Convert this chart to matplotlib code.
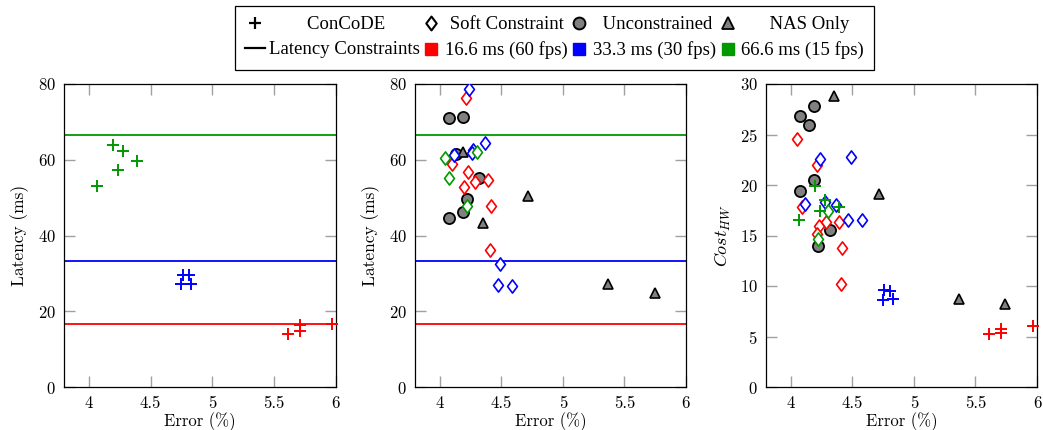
import matplotlib
matplotlib.use("Agg")
import matplotlib.pyplot as plt
from matplotlib.lines import Line2D
from matplotlib.path import Path

# ---------------- data ----------------
constraints = [16.6, 33.3, 66.6]
constraint_colors = ["#ff0000", "#0000ff", "#009900"]
legend_constraint_labels = ["16.6 ms (60 fps)", "33.3 ms (30 fps)", "66.6 ms (15 fps)"]

# ConCoDE (error %, latency ms, cost)
concode60_err = [5.61, 5.71, 5.71, 5.97]
concode60_lat = [13.9, 16.5, 14.8, 16.7]
concode60_cost = [5.2, 5.7, 5.3, 6.0]
concode30_err = [4.76, 4.81, 4.75, 4.83]
concode30_lat = [29.7, 29.5, 27.3, 27.1]
concode30_cost = [9.6, 9.5, 8.6, 8.7]
concode15_err = [4.20, 4.28, 4.39, 4.24, 4.07]
concode15_lat = [63.9, 62.3, 59.6, 57.3, 53.2]
concode15_cost = [19.9, 18.5, 17.8, 17.4, 16.5]

# Soft constraint - latency panel
soft60_err_lat = [4.21, 4.10, 4.23, 4.39, 4.29, 4.20, 4.42, 4.41]
soft60_lat = [76.3, 59.0, 56.8, 54.6, 54.0, 52.9, 47.8, 36.3]
soft30_err_lat = [4.24, 4.37, 4.27, 4.26, 4.12, 4.49, 4.47, 4.59]
soft30_lat = [78.8, 64.3, 62.5, 61.9, 61.2, 32.4, 26.8, 26.6]
soft15_err_lat = [4.04, 4.30, 4.08, 4.22]
soft15_lat = [60.4, 62.1, 55.2, 47.8]

# Soft constraint - cost panel
soft60_err_cost = [4.05, 4.21, 4.095, 4.39, 4.29, 4.23, 4.21, 4.42, 4.41]
soft60_cost = [24.6, 22.0, 17.8, 16.3, 16.3, 15.9, 15.1, 13.8, 10.2]
soft30_err_cost = [4.24, 4.49, 4.12, 4.28, 4.37, 4.465, 4.58]
soft30_cost = [22.6, 22.8, 18.1, 18.3, 18.0, 16.5, 16.5]
soft15_err_cost = [4.30, 4.22]
soft15_cost = [17.4, 14.7]

# Unconstrained
uncon_err_lat = [4.08, 4.19, 4.135, 4.32, 4.22, 4.19, 4.08]
uncon_lat = [70.9, 71.4, 61.5, 55.1, 49.6, 46.3, 44.6]
uncon_err_cost = [4.19, 4.075, 4.15, 4.19, 4.08, 4.32, 4.22]
uncon_cost = [27.8, 26.8, 25.9, 20.5, 19.4, 15.5, 14.0]

# NAS only
nas_err_lat = [4.19, 4.72, 4.35, 5.37, 5.75]
nas_lat = [62.1, 50.4, 43.2, 27.2, 24.9]
nas_err_cost = [4.35, 4.72, 5.37, 5.74]
nas_cost = [28.8, 19.1, 8.7, 8.2]

xticks = [4, 4.5, 5, 5.5, 6]
xticklabels = ["4", "4.5", "5", "5.5", "6"]
lat_ticks = [0, 20, 40, 60, 80]
cost_ticks = [0, 5, 10, 15, 20, 25, 30]

# ---------------- style ----------------
plt.rcParams["font.family"] = ["cmr10", "DejaVu Serif"]
plt.rcParams["mathtext.fontset"] = "cm"
plt.rcParams["axes.formatter.use_mathtext"] = True

diamond = Path([(0, 1), (0.75, 0), (0, -1), (-0.75, 0), (0, 1)],
               [Path.MOVETO, Path.LINETO, Path.LINETO, Path.LINETO, Path.CLOSEPOLY])

GRAY = "#808080"
kw_plus = dict(marker="+", ms=8, mew=1.4, ls="none", clip_on=False, zorder=5)
kw_dia = dict(marker=diamond, ms=9.5, mew=1.2, mfc="white", ls="none", zorder=4)
kw_circ = dict(marker="o", ms=8, mew=1.3, mfc=GRAY, mec="black", ls="none", zorder=3)
kw_tri = dict(marker="^", ms=7.5, mew=1.2, mfc=GRAY, mec="black", ls="none", zorder=3)

W, H = 1043, 430
fig = plt.figure(figsize=(W / 100, H / 100), dpi=100)

def make_ax(left_px, width_px=271, top_px=84, bottom_px=387):
    return fig.add_axes([left_px / W, (H - bottom_px) / H, width_px / W, (bottom_px - top_px) / H])

ax1 = make_ax(64, 272)
ax2 = make_ax(415)
ax3 = make_ax(766)

for ax in (ax1, ax2, ax3):
    ax.set_xlim(3.8, 6)
    ax.set_xticks(xticks)
    ax.set_xticklabels(xticklabels)
    ax.tick_params(direction="in", length=8, width=1, color="#a0a0a0",
                   top=True, right=True, labelsize=12, pad=6)
    for s in ax.spines.values():
        s.set_linewidth(0.9)
    ax.set_xlabel("Error (%)", fontsize=12, labelpad=1)

for ax in (ax1, ax2):
    ax.set_ylim(0, 80)
    ax.set_yticks(lat_ticks)
    ax.set_ylabel("Latency (ms)", fontsize=12.5, labelpad=6)
    for c, col in zip(constraints, constraint_colors):
        ax.axhline(c, color=col, lw=1.3, zorder=2)

ax3.set_ylim(0, 30)
ax3.set_yticks(cost_ticks)
ax3.set_ylabel(r"$Cost_{HW}$", fontsize=13, labelpad=5)

# Panel 1: ConCoDE
for e, l, c in [(concode60_err, concode60_lat, 0), (concode30_err, concode30_lat, 1),
                (concode15_err, concode15_lat, 2)]:
    ax1.plot(e, l, color=constraint_colors[c], **kw_plus)

# Panel 2: latency of baselines
ax2.plot(uncon_err_lat, uncon_lat, **kw_circ)
ax2.plot(nas_err_lat, nas_lat, **kw_tri)
for e, l, c in [(soft60_err_lat, soft60_lat, 0), (soft30_err_lat, soft30_lat, 1),
                (soft15_err_lat, soft15_lat, 2)]:
    ax2.plot(e, l, mec=constraint_colors[c], **kw_dia)

# Panel 3: cost
ax3.plot(uncon_err_cost, uncon_cost, **kw_circ)
ax3.plot(nas_err_cost, nas_cost, **kw_tri)
for e, l, c in [(soft60_err_cost, soft60_cost, 0), (soft30_err_cost, soft30_cost, 1),
                (soft15_err_cost, soft15_cost, 2)]:
    ax3.plot(e, l, mec=constraint_colors[c], **kw_dia)
for e, l, c in [(concode60_err, concode60_cost, 0), (concode30_err, concode30_cost, 1),
                (concode15_err, concode15_cost, 2)]:
    ax3.plot(e, l, color=constraint_colors[c], **kw_plus)

# ---------------- legend ----------------
h_concode = Line2D([], [], marker="+", color="black", ms=8.5, mew=1.6, ls="none")
h_soft = Line2D([], [], marker=diamond, mec="black", mfc="white", ms=10, mew=1.5, ls="none")
h_uncon = Line2D([], [], marker="o", mec="black", mfc=GRAY, ms=8.5, mew=1.4, ls="none")
h_nas = Line2D([], [], marker="^", mec="black", mfc=GRAY, ms=8, mew=1.3, ls="none")
h_line = Line2D([], [], color="black", lw=1.6)
h_sq = [Line2D([], [], marker="s", color=c, ms=8.5, ls="none") for c in constraint_colors]

handles = [h_concode, h_line, h_soft, h_sq[0], h_uncon, h_sq[1], h_nas, h_sq[2]]
labels = ["        ConCoDE", "Latency Constraints",
          " Soft Constraint", legend_constraint_labels[0],
          "  Unconstrained", legend_constraint_labels[1],
          "      NAS Only", legend_constraint_labels[2]]
leg = fig.legend(handles, labels, ncol=4, loc="upper center", bbox_to_anchor=(0.5316, 0.986),
                 prop={"family": "Liberation Serif", "size": 13.5}, frameon=True, fancybox=False,
                 edgecolor="black", framealpha=1, handlelength=1.07, handletextpad=0.2,
                 columnspacing=0.08, labelspacing=0.42, borderpad=0.55, borderaxespad=0)
leg.get_frame().set_linewidth(0.9)

fig.savefig("out.png", dpi=100)
